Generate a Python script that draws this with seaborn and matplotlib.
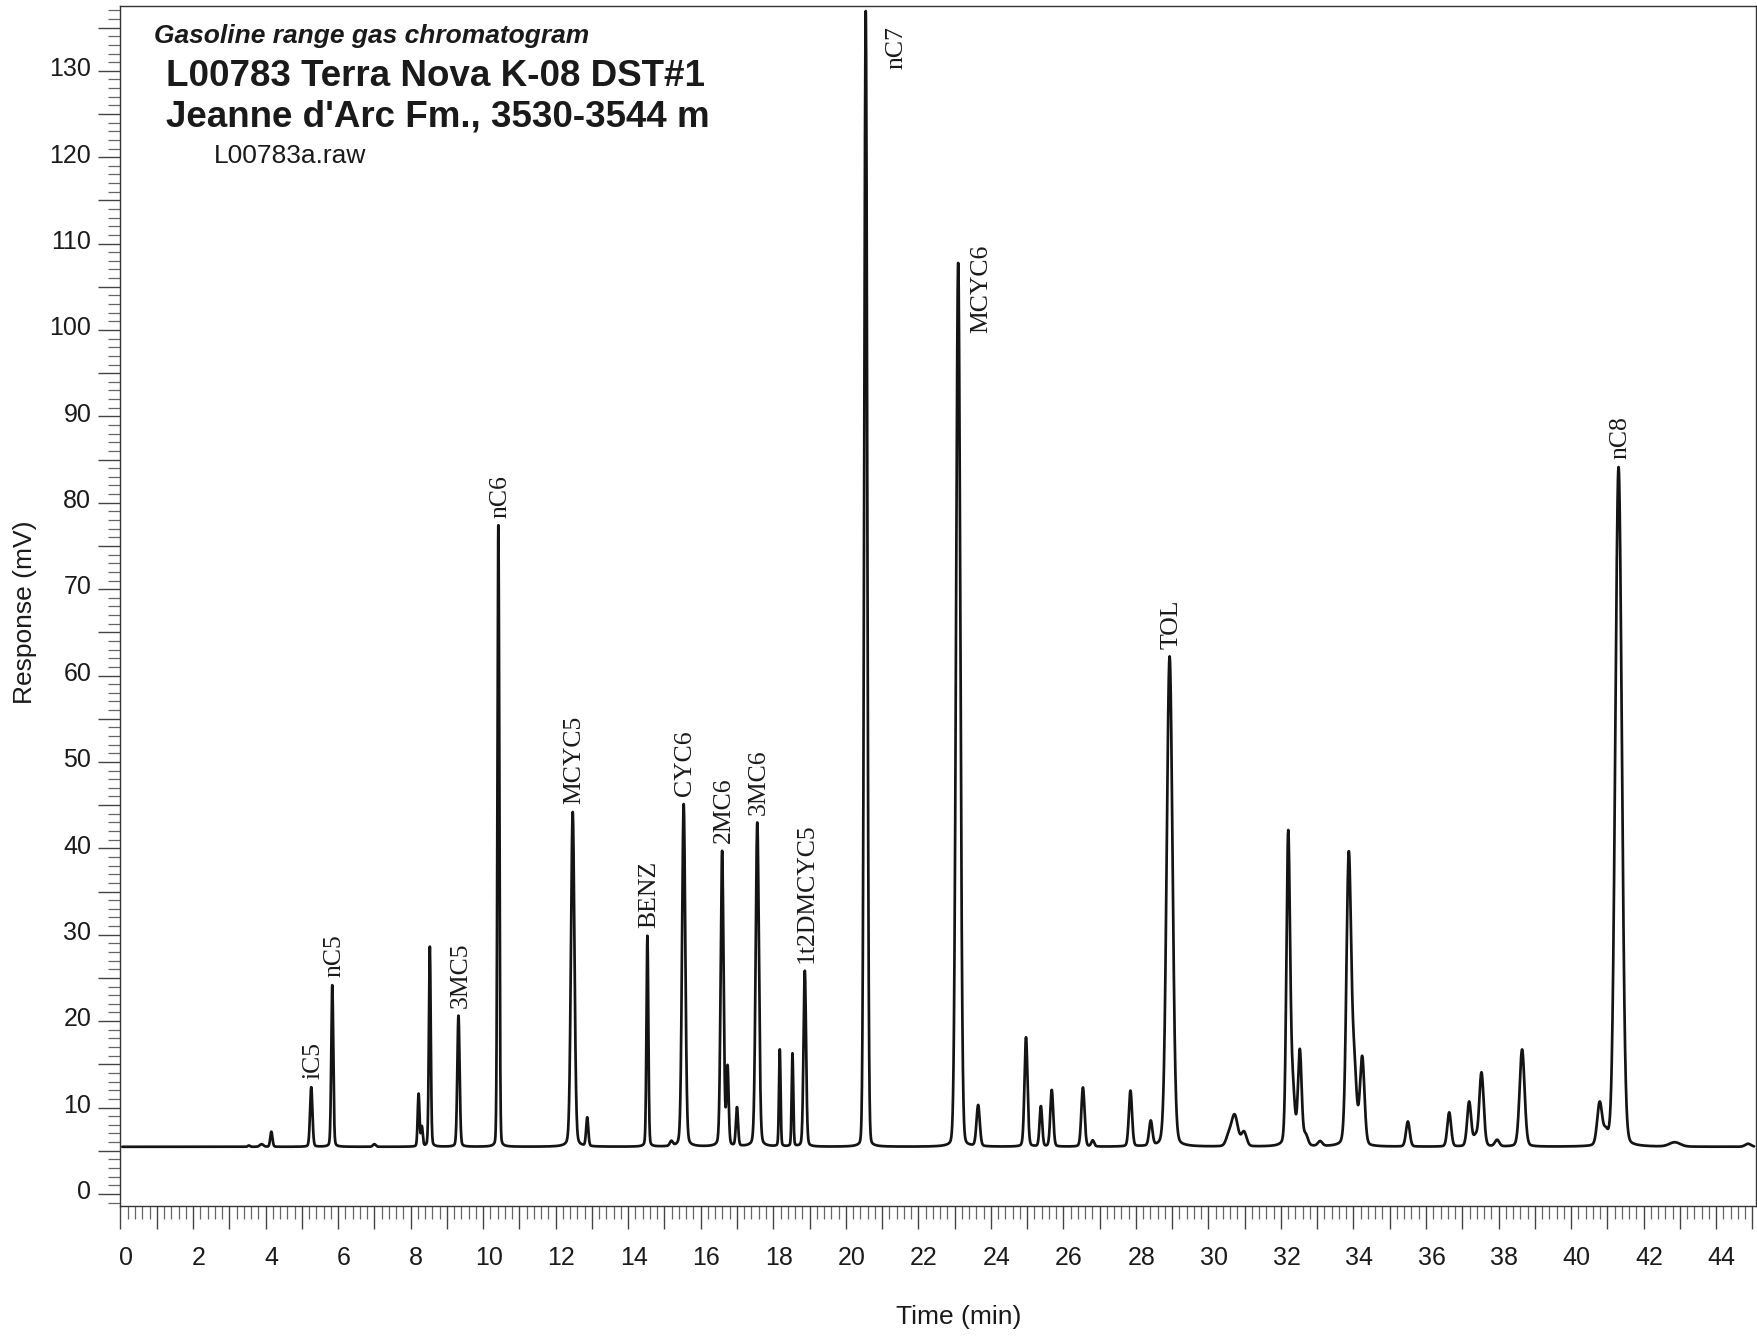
import numpy as np
import pandas as pd
import matplotlib
matplotlib.use("Agg")
import matplotlib.pyplot as plt
import matplotlib.transforms as mtransforms
from matplotlib.ticker import MultipleLocator, FuncFormatter
import seaborn as sns

# ---------------- data ----------------
baseline_mv = 5.45

# retention time (min), apex response (mV), peak sigma (min)
peak_time = [3.54, 3.89, 4.16, 5.26, 5.84, 7.00, 8.22, 8.31, 8.53, 9.32,
             10.42, 12.47, 12.87, 14.53, 15.19, 15.53, 16.59, 16.74, 17.00, 17.56,
             18.18, 18.53, 18.87, 20.55, 23.10, 23.65, 24.97, 25.38, 25.68, 26.54,
             26.81, 27.85, 28.41, 28.93, 30.55, 30.72, 30.98, 32.20, 32.32, 32.52,
             32.68, 33.08, 33.87, 34.02, 34.24, 35.50, 36.64, 37.19, 37.36, 37.53,
             37.96, 38.65, 40.79, 40.96, 41.31, 42.86, 44.88]
peak_apex = [5.60, 5.75, 7.20, 12.35, 24.20, 5.75, 11.55, 7.70, 28.60, 20.65,
             77.60, 44.20, 8.75, 29.85, 6.00, 45.10, 39.60, 14.40, 9.90, 43.00,
             16.70, 16.20, 25.80, 136.90, 107.80, 10.20, 18.10, 10.10, 12.00, 12.30,
             6.15, 11.90, 8.30, 62.20, 6.45, 9.10, 7.10, 41.00, 12.00, 16.40,
             6.65, 6.00, 38.80, 14.00, 15.60, 8.35, 9.40, 10.60, 6.50, 14.00,
             6.20, 16.70, 10.40, 6.90, 84.10, 5.95, 5.80]
peak_sigma = [0.030, 0.050, 0.030, 0.033, 0.028, 0.040, 0.025, 0.025, 0.026, 0.032,
              0.026, 0.048, 0.030, 0.026, 0.040, 0.045, 0.040, 0.030, 0.030, 0.045,
              0.022, 0.022, 0.035, 0.042, 0.058, 0.045, 0.042, 0.036, 0.040, 0.044,
              0.040, 0.044, 0.045, 0.080, 0.070, 0.090, 0.070, 0.050, 0.060, 0.050,
              0.060, 0.060, 0.065, 0.065, 0.062, 0.052, 0.052, 0.055, 0.055, 0.060,
              0.060, 0.068, 0.068, 0.060, 0.090, 0.150, 0.080]

label_names = ["iC5", "nC5", "3MC5", "nC6", "MCYC5", "BENZ", "CYC6", "2MC6",
               "3MC6", "1t2DMCYC5", "nC7", "MCYC6", "TOL", "nC8"]
label_times = [5.26, 5.84, 9.32, 10.42, 12.47, 14.53, 15.53, 16.59,
               17.56, 18.87, 20.55, 23.10, 28.93, 41.31]

title_lines = ["Gasoline range gas chromatogram",
               "L00783 Terra Nova K-08 DST#1",
               "Jeanne d'Arc Fm., 3530-3544 m",
               "L00783a.raw"]

# ---------------- build trace from the peak table (pseudo-Voigt peaks) ----------------
t = np.arange(0.05, 45.05, 0.004)
resp = np.full_like(t, baseline_mv)
for tc, ap, sg in zip(peak_time, peak_apex, peak_sigma):
    amp = ap - baseline_mv
    eta = 0.15 * min(1.0, 40.0 / amp)
    d = t - tc
    gauss = np.exp(-0.5 * (d / sg) ** 2)
    gamma = 1.1774 * sg
    lor = 1.0 / (1.0 + (d / gamma) ** 2)
    resp += amp * ((1 - eta) * gauss + eta * lor)
df = pd.DataFrame({"Time (min)": t, "Response (mV)": resp})

# ---------------- figure ----------------
sns.set_style("ticks")
plt.rcParams["font.family"] = ["Liberation Sans", "DejaVu Sans"]

W, H = 1758, 1336
fig = plt.figure(figsize=(W / 100, H / 100), dpi=100)
ax_left, ax_right, ax_top, ax_bot = 120.5, 1756.0, 6.0, 1206.0
ax = fig.add_axes([ax_left / W, 1 - ax_bot / H, (ax_right - ax_left) / W,
                   (ax_bot - ax_top) / H])

sns.lineplot(data=df, x="Time (min)", y="Response (mV)", ax=ax, color="#141414",
             linewidth=1.95, estimator=None, sort=False)

ax.set_xlim(0, 45.1)
ax.set_ylim(-1.4, 137.5)

for side in ["left", "right", "top", "bottom"]:
    ax.spines[side].set_visible(True)
    ax.spines[side].set_color("#333333")
    ax.spines[side].set_linewidth(1.0)

ax.xaxis.set_major_locator(MultipleLocator(1))
ax.xaxis.set_minor_locator(MultipleLocator(0.2))
ax.xaxis.set_major_formatter(FuncFormatter(
    lambda v, p: f"{int(round(v))}" if int(round(v)) % 2 == 0 else ""))
ax.yaxis.set_major_locator(MultipleLocator(5))
ax.yaxis.set_minor_locator(MultipleLocator(1))
ax.yaxis.set_major_formatter(FuncFormatter(
    lambda v, p: f"{int(round(v))}" if int(round(v)) % 10 == 0 else ""))

ax.tick_params(axis="x", which="major", direction="out", length=16.5, width=1.0,
               color="#444444", labelsize=18, pad=12, labelcolor="#1a1a1a")
ax.tick_params(axis="x", which="minor", direction="out", length=9.5, width=0.9,
               color="#666666")
ax.tick_params(axis="y", which="major", direction="out", length=16, width=1.0,
               color="#444444", labelsize=18, pad=5, labelcolor="#1a1a1a")
ax.tick_params(axis="y", which="minor", direction="out", length=9, width=0.9,
               color="#666666")

# small offsets like the original rendering
dx = mtransforms.ScaledTranslation(4 / 72, 0, fig.dpi_scale_trans)
for lab in ax.get_xticklabels():
    lab.set_transform(lab.get_transform() + dx)
dy = mtransforms.ScaledTranslation(0, 3 / 72, fig.dpi_scale_trans)
for lab in ax.get_yticklabels():
    lab.set_transform(lab.get_transform() + dy)

axw, axh = ax_right - ax_left, ax_bot - ax_top
ax.set_xlabel("Time (min)", fontsize=19, va="center", color="#1a1a1a")
ax.xaxis.set_label_coords((959 - ax_left) / axw, (ax_bot - 1317) / axh)
ax.set_ylabel("Response (mV)", fontsize=19, va="center", color="#1a1a1a")
ax.yaxis.set_label_coords((25 - ax_left) / axw, (ax_bot - 612) / axh)

# ---------------- peak labels ----------------
serif = ["Liberation Serif", "DejaVu Serif"]
for name, lt in zip(label_names, label_times):
    near = (t > lt - 0.06) & (t < lt + 0.06)
    top = resp[near].max()
    if name == "nC7":
        ax.text(lt + 0.85, 135.2, name, rotation=90, ha="center", va="top",
                fontsize=18.5, family=serif, color="#1a1a1a")
    elif name == "MCYC6":
        ax.text(lt + 0.65, 99.7, name, rotation=90, ha="center", va="bottom",
                fontsize=18.5, family=serif, color="#1a1a1a")
    else:
        ax.text(lt + 0.05, top + 0.9, name, rotation=90, ha="center", va="bottom",
                fontsize=18.5, family=serif, color="#1a1a1a")

# ---------------- header text ----------------
fig.text(154 / W, 1 - 36 / H, title_lines[0], fontsize=19, fontweight="bold",
         fontstyle="italic", ha="left", va="center", color="#1a1a1a")
fig.text(166 / W, 1 - 76 / H, title_lines[1], fontsize=26.5, fontweight="bold",
         ha="left", va="center", color="#1a1a1a")
fig.text(166 / W, 1 - 117 / H, title_lines[2], fontsize=26.5, fontweight="bold",
         ha="left", va="center", color="#1a1a1a")
fig.text(214 / W, 1 - 156 / H, title_lines[3], fontsize=19, ha="left",
         va="center", color="#1a1a1a")

fig.savefig("out.png", dpi=100, facecolor="white")
